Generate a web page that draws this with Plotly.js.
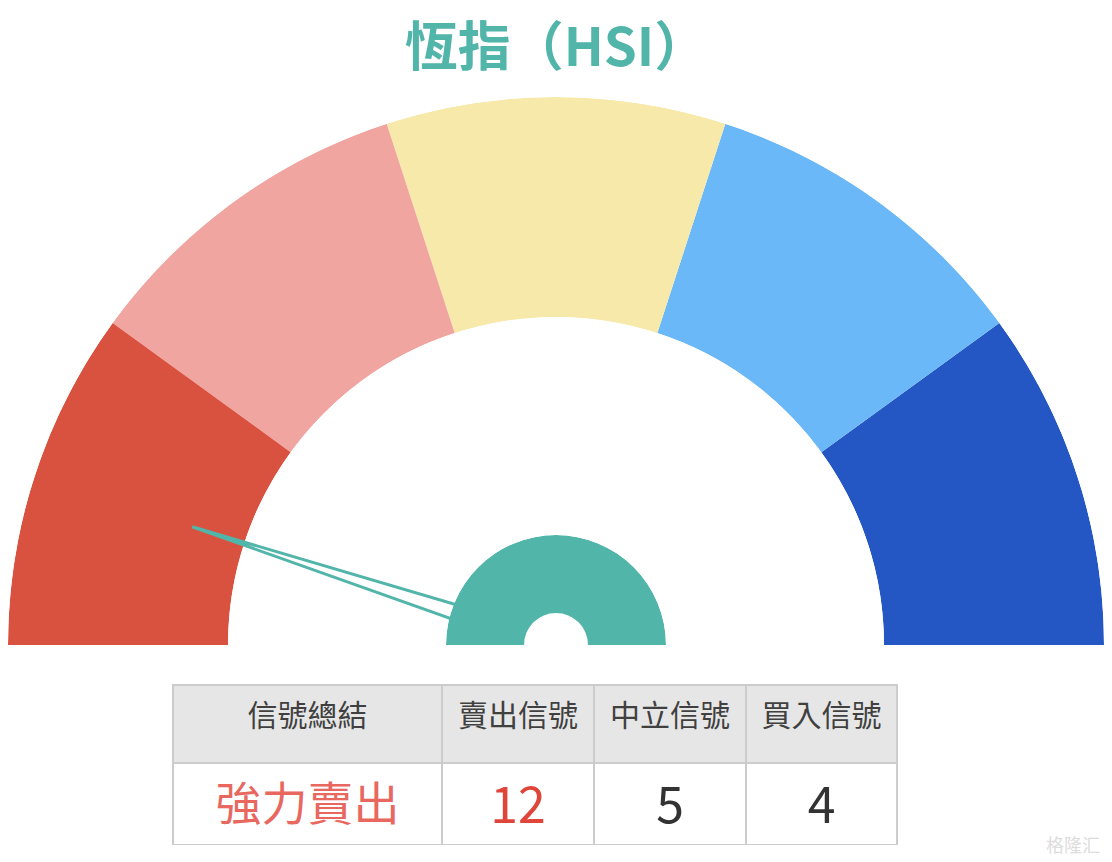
<!DOCTYPE html>
<html>
<head>
<meta charset="utf-8">
<script src="https://cdn.plot.ly/plotly-3.0.1.min.js"></script>
<style>html,body{margin:0;padding:0;background:#fff;}#chart{width:1112px;height:862px;}</style>
</head>
<body>
<div id="chart"></div>
<script>
// ---- data ----
const titleText = '恆指（HSI）';
const segmentNames = ['強力買入', '買入', '中立', '賣出', '強力賣出']; // right -> left
const segmentSpans = [36, 36, 36, 36, 36]; // degrees of each gauge band
const segmentColors = ['#2457C4', '#6AB8F7', '#F6E9A9', '#F0A5A0', '#D9523F'];
const needleAngle = 162;      // degrees (0 = right, 180 = left)
const needleLength = 0.698;   // fraction of outer radius
const needleHalfBase = 0.019; // fraction of outer radius
const tableHeaders = ['信號總結', '賣出信號', '中立信號', '買入信號'];
const summaryText = ['強力賣出'];
const sellSignals = [12];
const neutralSignals = [5];
const buySignals = [4];

const teal = '#52B5AA';
const W = 1112, H = 862;
const cx = 556, cy = 645, R = 548, Rin = 328, hubR = 110, hubHole = 32;
const font = '"Noto Sans CJK TC", "Noto Sans", sans-serif';

// band centres from spans
const thetas = [];
let acc = 0;
segmentSpans.forEach(s => { thetas.push(acc + s / 2); acc += s; });

const hiddenAngular = {showgrid: false, showticklabels: false, showline: false, ticks: '', rotation: 0, direction: 'counterclockwise'};
const hiddenRadial = {visible: false, range: [0, 1], showgrid: false, showline: false};

const colWidths = [269, 152, 152, 151];
const cellValues = [summaryText, sellSignals, neutralSignals, buySignals];
const tableX = [173 / W, 898 / W];

const traces = [
  {
    type: 'barpolar', subplot: 'polar',
    r: segmentSpans.map(() => 1), theta: thetas, width: segmentSpans,
    text: segmentNames, hoverinfo: 'text',
    marker: {color: segmentColors, line: {width: 0}}
  },
  {
    type: 'scatterpolar', subplot: 'polar2', mode: 'lines',
    r: [needleLength, needleHalfBase, needleHalfBase, needleLength],
    theta: [needleAngle, needleAngle - 90, needleAngle + 90, needleAngle],
    fill: 'toself', fillcolor: '#ffffff',
    line: {color: teal, width: 3}, hoverinfo: 'skip'
  },
  {
    type: 'barpolar', subplot: 'polar3',
    r: [hubHole / hubR, 1 - hubHole / hubR], base: [0, hubHole / hubR],
    theta: [90, 90], width: [180, 180],
    marker: {color: ['#ffffff', teal], line: {width: 0}}, hoverinfo: 'skip'
  },
  // table frame (fills and borders)
  {
    type: 'table',
    domain: {x: tableX, y: [17 / H, 177 / H]},
    columnwidth: colWidths,
    header: {
      values: tableHeaders.map(() => ''),
      height: 78,
      fill: {color: '#E6E6E6'},
      line: {color: '#CCCCCC', width: 2},
      font: {family: font, size: 12}
    },
    cells: {
      values: cellValues.map(col => col.map(() => '')),
      height: 82,
      fill: {color: '#ffffff'},
      line: {color: '#CCCCCC', width: 2},
      font: {family: font, size: 12}
    }
  },
  // table text (transparent, offset so text sits mid-cell)
  {
    type: 'table',
    domain: {x: tableX, y: [0, 167 / H]},
    columnwidth: colWidths,
    header: {
      values: tableHeaders,
      align: 'center', height: 82,
      fill: {color: 'rgba(0,0,0,0)'},
      line: {color: 'rgba(0,0,0,0)', width: 0},
      font: {family: font, size: 30, color: '#404040'}
    },
    cells: {
      values: cellValues,
      align: 'center', height: 82,
      fill: {color: 'rgba(0,0,0,0)'},
      line: {color: 'rgba(0,0,0,0)', width: 0},
      font: {family: font, size: [46, 50, 50, 50],
             color: ['#E8675F', '#E0453A', '#333333', '#333333']}
    }
  }
];

const layout = {
  width: W, height: H,
  margin: {l: 0, r: 0, t: 0, b: 0},
  paper_bgcolor: '#ffffff',
  showlegend: false,
  title: {text: titleText, x: 0.5, xanchor: 'center', y: 1 - 47 / H, yanchor: 'middle',
          font: {family: font, size: 53, color: teal, weight: 'bold'}},
  polar: {
    domain: {x: [(cx - R) / W, (cx + R) / W], y: [(H - cy) / H, (H - cy + R) / H]},
    sector: [0, 180], hole: Rin / R, bgcolor: 'rgba(0,0,0,0)',
    angularaxis: hiddenAngular, radialaxis: hiddenRadial
  },
  polar2: {
    domain: {x: [(cx - R) / W, (cx + R) / W], y: [(H - cy) / H, (H - cy + R) / H]},
    sector: [0, 180], hole: 0, bgcolor: 'rgba(0,0,0,0)',
    angularaxis: hiddenAngular, radialaxis: hiddenRadial
  },
  polar3: {
    domain: {x: [(cx - hubR) / W, (cx + hubR) / W], y: [(H - cy) / H, (H - cy + hubR) / H]},
    sector: [0, 180], hole: 0, bgcolor: 'rgba(0,0,0,0)',
    angularaxis: hiddenAngular, radialaxis: hiddenRadial
  },
  annotations: [{
    text: '格隆汇', x: 1102 / W, y: 18 / H, xref: 'paper', yref: 'paper',
    xanchor: 'right', yanchor: 'middle', showarrow: false,
    font: {family: font, size: 18, color: '#DDDDDD'}
  }]
};

Plotly.newPlot('chart', traces, layout, {displayModeBar: false, staticPlot: true});
</script>
</body>
</html>
